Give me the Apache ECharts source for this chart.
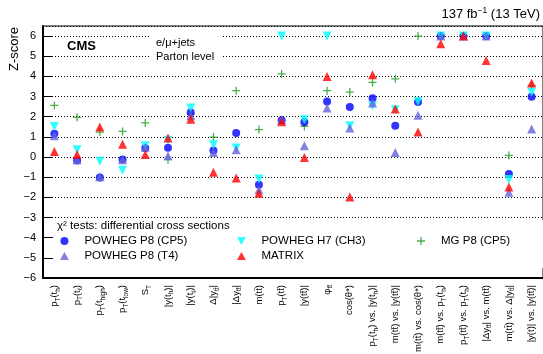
<!DOCTYPE html>
<html><head><meta charset="utf-8">
<script src="https://cdn.jsdelivr.net/npm/echarts@6/dist/echarts.min.js"></script>
<style>html,body{margin:0;padding:0;background:#fff}#c{width:543px;height:354px}</style>
</head><body><div id="c"></div><script>
// ---- data ----
const categories = [
  'p_{T}(t_{h})', 'p_{T}(t_{ℓ})', 'p_{T}(t_{high})', 'p_{T}(t_{low})', 'S_{T}',
  '|y(t_{h})|', '|y(t_{ℓ})|', 'Δ|y_{tt̄}|', '|Δy_{tt̄}|', 'm(tt̄)', 'p_{T}(tt̄)',
  '|y(tt̄)|', 'φ_{tt̄}', 'cos(θ*)', 'p_{T}(t_{h}) vs. |y(t_{h})|', 'm(tt̄) vs. |y(tt̄)|',
  'm(tt̄) vs. cos(θ*)', 'm(tt̄) vs. p_{T}(t_{h})', 'p_{T}(tt̄) vs. p_{T}(t_{h})',
  '|Δy_{tt̄}| vs. m(tt̄)', 'm(tt̄) vs. Δ|y_{tt̄}|', '|y(t)| vs. |y(tt̄)|'
];
const powhegP8CP5 = [1.16, -0.17, -1.02, -0.12, 0.45, 0.46, 2.21, 0.33, 1.19, -1.37, 1.82, 1.72, 2.76, 2.48, 2.91, 1.55, 2.73, 6, 6, 6, -0.84, 2.99];
const powhegP8T4  = [1.05, -0.13, -0.98, -0.13, 0.48, 0.07, 2.05, 0.23, 0.36, -1.62, 1.85, 0.56, 2.43, 1.44, 2.68, 0.23, 2.07, 6, 6, 6, -1.75, 1.39];
const powhegH7CH3 = [1.52, 0.36, -0.21, -0.66, 0.56, 0.83, 2.43, 0.61, 0.45, -1.09, 6, 1.85, 6, 1.55, 2.55, 2.35, 2.76, 6, 6, 6, -1.12, 3.21];
const matrixNNLO  = [0.28, 0.12, 1.49, 0.63, 0.12, 0.94, 1.88, -0.76, -1.04, -1.79, 1.75, -0.02, 4.0, -1.98, 4.08, 2.38, 1.24, 5.62, 6, 4.79, -1.49, 3.67];
const mgP8CP5     = [2.56, 1.97, 1.24, 1.27, 1.69, -0.13, 2.13, 0.99, 3.29, 1.36, 4.12, 1.52, 3.29, 3.22, 3.70, 3.88, 6, 6, 6, 6, 0.08, 3.54];
const yMin = -6, yMax = 6.5, yStep = 1;

// ---- helpers ----
const FONT = '"Liberation Sans", Arial, Helvetica, sans-serif';
function toRich(s) {
  let out = '', buf = '', i = 0;
  while (i < s.length) {
    if (s[i] === '_' && s[i + 1] === '{') {
      if (buf) { out += '{n|' + buf + '}'; buf = ''; }
      const j = s.indexOf('}', i);
      out += '{s|' + s.slice(i + 2, j) + '}';
      i = j + 1;
    } else { buf += s[i]; i++; }
  }
  if (buf) out += '{n|' + buf + '}';
  return out;
}
const DOWN = 'path://M0,0 L10,0 L5,9 Z';
const UP = 'path://M5,0 L10,9 L0,9 Z';
const PLUS = 'path://M4.2,0 H5.8 V4.2 H10 V5.8 H5.8 V10 H4.2 V5.8 H0 V4.2 H4.2 Z';

const chart = echarts.init(document.getElementById('c'), null, {renderer: 'canvas'});
const legendText = {fontSize: 11.5, color: '#000', fontFamily: FONT};
const legendCommon = {orient: 'vertical', top: 235, itemWidth: 30, itemHeight: 8, itemGap: 3,
  textStyle: legendText, selectedMode: false, padding: 0, symbolKeepAspect: true};
const option = {
  animation: false,
  textStyle: {fontFamily: FONT},
  grid: {left: 43, right: 0, top: 26, bottom: 76, containLabel: false, outerBoundsMode: 'none',
         show: true, borderColor: '#000', borderWidth: 1, backgroundColor: 'transparent'},
  xAxis: {
    type: 'category', data: categories, boundaryGap: true,
    axisLine: {onZero: false, lineStyle: {color: '#000', width: 2}},
    axisTick: {inside: true, length: 8, lineStyle: {color: '#000', width: 1}},
    axisLabel: {
      interval: 0, rotate: 90, margin: 7, color: '#000', hideOverlap: false,
      formatter: v => toRich(v),
      rich: {
        n: {fontSize: 9.5, lineHeight: 12, fontFamily: FONT, color: '#000'},
        s: {fontSize: 6.5, lineHeight: 8, padding: [7, 0, 0, 0], fontFamily: FONT, color: '#000'}
      }
    },
    splitLine: {show: false}
  },
  yAxis: {
    type: 'value', min: yMin, max: yMax, interval: yStep,
    axisLine: {show: true, lineStyle: {color: '#000', width: 2}},
    axisTick: {show: true, inside: true, length: 10, lineStyle: {color: '#000', width: 1}},
    axisLabel: {color: '#000', fontSize: 11, margin: 7, showMaxLabel: false, fontFamily: FONT,
      formatter: v => Number.isInteger(v) ? String(v).replace('-', '\u2212') : ''},
    splitLine: {show: true, lineStyle: {color: '#000', type: [1, 2], width: 1}}
  },
  legend: [
    Object.assign({data: ['POWHEG P8 (CP5)', 'POWHEG P8 (T4)'], left: 60}, legendCommon),
    Object.assign({data: ['POWHEG H7 (CH3)', 'MATRIX'], left: 237}, legendCommon),
    Object.assign({data: ['MG P8 (CP5)'], left: 417}, legendCommon)
  ],
  graphic: [
    {type: 'rect', shape: {x: 54, y: 220, width: 489, height: 48}, style: {fill: '#fff'}, z: 1, silent: true},
    {type: 'rect', shape: {x: 150, y: 28, width: 73, height: 38}, style: {fill: '#fff'}, z: 1, silent: true},
    {type: 'text', x: 67, y: 46, z: 10, style: {text: 'CMS', font: 'bold 13px ' + FONT, fill: '#000',
      align: 'left', verticalAlign: 'middle', textAlign: 'left', textVerticalAlign: 'middle'}},
    {type: 'text', x: 156, y: 43, z: 10, style: {text: 'e/μ+jets', font: '11px ' + FONT, fill: '#000',
      align: 'left', verticalAlign: 'middle', textAlign: 'left', textVerticalAlign: 'middle'}},
    {type: 'text', x: 156, y: 57, z: 10, style: {text: 'Parton level', font: '11px ' + FONT, fill: '#000',
      align: 'left', verticalAlign: 'middle', textAlign: 'left', textVerticalAlign: 'middle'}},
    {type: 'text', x: 57, y: 226, z: 10, style: {text: 'χ² tests: differential cross sections', font: '11.5px ' + FONT, fill: '#000',
      align: 'left', verticalAlign: 'middle', textAlign: 'left', textVerticalAlign: 'middle'}},
    {type: 'text', x: 540, y: 14, z: 10, style: {
      text: '{n|137 fb}{p|−1}{n| (13 TeV)}', align: 'right', verticalAlign: 'middle',
      textAlign: 'right', textVerticalAlign: 'middle', fill: '#000',
      rich: {n: {fontSize: 13, lineHeight: 16, fontFamily: FONT, color: '#000'},
             p: {fontSize: 8.5, lineHeight: 10, padding: [0, 0, 6, 0], fontFamily: FONT, color: '#000'}}}},
    {type: 'text', x: 14, y: 27, rotation: Math.PI / 2, z: 10, style: {text: 'Z-score', font: '13px ' + FONT, fill: '#000',
      align: 'right', verticalAlign: 'middle', textAlign: 'right', textVerticalAlign: 'middle'}}
  ],
  series: [
    {name: 'MG P8 (CP5)', type: 'scatter', data: mgP8CP5, symbol: PLUS, symbolSize: 8, itemStyle: {color: '#1a9a1a'}},
    {name: 'POWHEG P8 (CP5)', type: 'scatter', data: powhegP8CP5, symbol: 'circle', symbolSize: 8, itemStyle: {color: '#0000ff'}},
    {name: 'POWHEG H7 (CH3)', type: 'scatter', data: powhegH7CH3, symbol: DOWN, symbolSize: 9, itemStyle: {color: '#00ffff'}},
    {name: 'POWHEG P8 (T4)', type: 'scatter', data: powhegP8T4, symbol: UP, symbolSize: 9, itemStyle: {color: '#6464dc'}},
    {name: 'MATRIX', type: 'scatter', data: matrixNNLO, symbol: UP, symbolSize: 9, itemStyle: {color: '#ff0000'}}
  ]
};
chart.setOption(option);
</script></body></html>
